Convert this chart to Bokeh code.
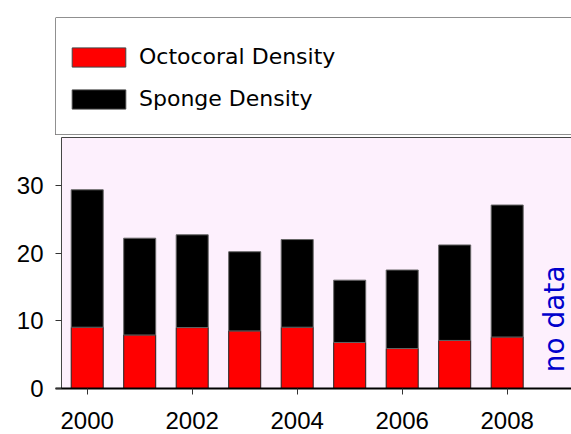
import math
from bokeh.plotting import figure
from bokeh.models import ColumnDataSource, Range1d, FixedTicker, Legend, LegendItem, Span, BoxAnnotation
from bokeh.layouts import column
from bokeh.embed import file_html
from bokeh.resources import INLINE

years = [2000, 2001, 2002, 2003, 2004, 2005, 2006, 2007, 2008]
octocoral = [9.05, 7.9, 9.0, 8.5, 9.05, 6.8, 5.9, 7.1, 7.6]
total = [29.35, 22.2, 22.7, 20.2, 22.0, 16.0, 17.5, 21.2, 27.1]
sponge = [t - o for t, o in zip(total, octocoral)]
series_names = ["Octocoral Density", "Sponge Density"]
series_colors = ["#FF0000", "#000000"]
x_ticks = [2000, 2002, 2004, 2006, 2008]
y_ticks = [0, 10, 20, 30]
no_data_year = 2009
no_data_text = "no data"

LEG_FONT = "DejaVu Sans"

# ---------- top legend panel ----------
top = figure(width=571, height=136, output_backend="svg", toolbar_location=None,
             x_axis_type=None, y_axis_type=None,
             x_range=Range1d(0, 1), y_range=Range1d(0, 1),
             min_border_left=55, min_border_right=0, min_border_top=17, min_border_bottom=2)
top.grid.visible = False
top.outline_line_color = None
top.background_fill_color = "white"
for loc, dim in ((0, "width"), (1, "width"), (0, "height")):
    top.add_layout(Span(location=loc, dimension=dim, line_color="#222222", line_width=1))
# legend-only renderers: placed outside the visible range so only their swatches show
hidden = ColumnDataSource(data=dict(x=[-10], top=[-10]))
r1 = top.vbar(x="x", top="top", width=0.5, source=hidden, fill_color=series_colors[0], line_color="#444444")
r2 = top.vbar(x="x", top="top", width=0.5, source=hidden, fill_color=series_colors[1], line_color="#444444")
leg = Legend(items=[LegendItem(label=series_names[0], renderers=[r1]),
                    LegendItem(label=series_names[1], renderers=[r2])],
             location=(10, 23), glyph_width=67, glyph_height=24, label_height=24,
             spacing=17, padding=0, margin=0, label_standoff=7,
             label_text_font=LEG_FONT, label_text_font_size="22px", label_text_color="black",
             border_line_color=None, background_fill_alpha=0)
top.add_layout(leg, "center")

# ---------- main chart ----------
X0, X1 = 1999.396, 2009.225   # frame spans a small white strip left of the plot area
PX0 = 1999.51                 # left edge of the shaded plot area
Y_TOP = 37.07                 # top edge of the shaded plot area
src = ColumnDataSource(data=dict(year=years, octocoral=octocoral, sponge=sponge))
p = figure(width=571, height=298, output_backend="svg", toolbar_location=None,
           x_range=Range1d(X0, X1), y_range=Range1d(0, 37.22),
           min_border_left=55, min_border_right=0, min_border_top=0, min_border_bottom=46)
p.background_fill_color = "white"
p.border_fill_color = "white"
p.outline_line_color = None
p.grid.visible = False
p.add_layout(BoxAnnotation(left=PX0, right=X1 + 1, bottom=0, top=Y_TOP, level="underlay",
                           fill_color="#FDF0FD", fill_alpha=1,
                           line_color="#444444", line_width=1, line_alpha=1))

p.vbar_stack(["octocoral", "sponge"], x="year", width=0.61, source=src,
             fill_color=series_colors, line_color=["#222222", "#666666"], line_width=1)

p.xaxis.ticker = FixedTicker(ticks=x_ticks)
p.yaxis.ticker = FixedTicker(ticks=y_ticks)
for ax in (p.xaxis[0], p.yaxis[0]):
    ax.major_label_text_font = "Liberation Sans"
    ax.major_label_text_font_size = "24px"
    ax.major_label_text_color = "black"
    ax.minor_tick_out = 0
    ax.minor_tick_in = 0
    ax.major_tick_line_color = "#333333"
p.xaxis.major_tick_out = 6
p.xaxis.major_tick_in = 0
p.yaxis.major_tick_out = 0
p.yaxis.major_tick_in = 6
p.xaxis.axis_line_width = 2
p.xaxis.axis_line_color = "black"
p.yaxis.axis_line_color = None
p.xaxis.major_label_standoff = 17
p.yaxis.major_label_standoff = 12

p.text(x=[no_data_year], y=[10.3], text=[no_data_text], angle=math.pi / 2,
       text_align="center", text_baseline="middle", x_offset=-5,
       text_font={"value": LEG_FONT}, text_font_size="28px", text_color="#0000CC")

layout = column(top, p, spacing=0)
open("out.html", "w").write(file_html(layout, INLINE))
